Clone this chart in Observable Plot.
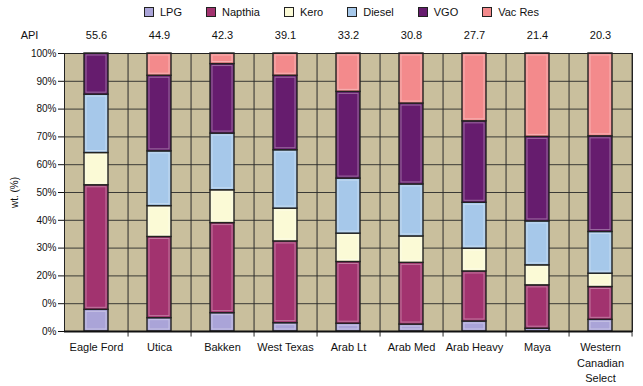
<!DOCTYPE html>
<html>
<head>
<meta charset="utf-8">
<script src="https://cdn.jsdelivr.net/npm/d3@7"></script>
<script src="https://cdn.jsdelivr.net/npm/@observablehq/plot@0.6"></script>
<style>
  body { margin: 0; background: #fff; font-family: "Liberation Sans", Arial, sans-serif; }
  #legend { height: 24px; display: flex; justify-content: center; align-items: center; font-size: 11px; color: #111; padding-left: 40px; box-sizing: border-box; width: 643px; }
  #legend .item { display: flex; align-items: center; margin: 0 12px; }
  #legend .sw { width: 8px; height: 8px; border: 1px solid #222; margin-right: 6px; }
</style>
</head>
<body>
<div id="legend"></div>
<div id="chart"></div>
<script>
const categories = ["Eagle Ford", "Utica", "Bakken", "West Texas", "Arab Lt", "Arab Med", "Arab Heavy", "Maya", "Western Canadian Select"];
const xLabels = ["Eagle Ford", "Utica", "Bakken", "West Texas", "Arab Lt", "Arab Med", "Arab Heavy", "Maya", "Western\nCanadian\nSelect"];
const api = ["55.6", "44.9", "42.3", "39.1", "33.2", "30.8", "27.7", "21.4", "20.3"];
const seriesNames = ["LPG", "Napthia", "Kero", "Diesel", "VGO", "Vac Res"];
const seriesColors = ["#aaa4d8", "#a2336f", "#fbfad6", "#a6c8ea", "#661c6e", "#f38a8c"];
const lpg     = [7.8, 4.8, 6.6, 3.0, 2.8, 2.5, 3.6, 1.0, 4.2];
const napthia = [44.8, 29.2, 32.4, 29.4, 22.2, 22.2, 18.0, 15.6, 11.8];
const kero    = [11.6, 11.1, 11.8, 11.8, 10.2, 9.5, 8.2, 7.2, 4.8];
const diesel  = [21.0, 19.7, 20.4, 21.0, 19.8, 18.7, 16.5, 15.8, 15.0];
const vgo     = [14.8, 27.2, 25.0, 26.8, 31.2, 29.1, 29.3, 30.4, 34.4];
const vacRes  = [0.0, 8.0, 3.8, 8.0, 13.8, 18.0, 24.4, 30.0, 29.8];
const yTicks = [0, 10, 20, 30, 40, 50, 60, 70, 80, 90, 100];
const yTickLabels = ["0%", "0%", "20%", "30%", "40%", "50%", "60%", "70%", "80%", "90%", "100%"];

const seriesValues = [lpg, napthia, kero, diesel, vgo, vacRes];
const data = [];
categories.forEach((c, i) => {
  seriesNames.forEach((s, j) => {
    if (seriesValues[j][i] > 0) data.push({crude: c, component: s, value: seriesValues[j][i]});
  });
});

// legend
const leg = document.getElementById("legend");
seriesNames.forEach((s, j) => {
  const it = document.createElement("div");
  it.className = "item";
  it.innerHTML = `<span class="sw" style="background:${seriesColors[j]}"></span><span>${s}</span>`;
  leg.appendChild(it);
});

const W = 643, ML = 64, MR = 11;
const step = (W - ML - MR) / categories.length;

const chart = Plot.plot({
  width: W,
  height: 362,
  marginLeft: ML,
  marginRight: MR,
  marginTop: 29,
  marginBottom: 55,
  style: { fontFamily: "Liberation Sans, Arial, sans-serif", fontSize: "10px", color: "#111", overflow: "visible" },
  x: { domain: categories, paddingInner: 0.62, paddingOuter: 0.31, axis: null },
  y: { domain: [0, 100], axis: null },
  color: { domain: seriesNames, range: seriesColors },
  marks: [
    Plot.frame({ fill: "#c9bf9d", stroke: "none" }),
    Plot.gridY(yTicks, { stroke: "#3a3a36", strokeOpacity: 1, strokeWidth: 1 }),
    Plot.ruleX(categories, { x: d => d, y1: -2, y2: 100, dx: step / 2, stroke: "#2a2a2a", strokeWidth: 1 }),
    Plot.barY(data, { x: "crude", y: "value", z: "component", fill: "component", order: seriesNames, stroke: "#222", strokeWidth: 1.4 }),
    Plot.barY(data, { x: "crude", y: "value", z: "component", fill: "none", order: seriesNames, stroke: "#ffffff", strokeOpacity: 0.35, strokeWidth: 1, inset: 2 }),
    Plot.frame({ stroke: "#222", strokeWidth: 1 }),
    Plot.ruleY([0], { stroke: "#111", strokeWidth: 2 }),
    Plot.axisY({ ticks: yTicks, tickFormat: d => yTickLabels[yTicks.indexOf(d)], tickSize: 6, tickPadding: 2, fontSize: 10, stroke: "#111",
      label: "wt. (%)", labelAnchor: "center", labelArrow: "none", labelOffset: 54 }),
    Plot.axisX({ tickSize: 0, tickPadding: 9, fontSize: 11, lineHeight: 1.4, label: null, tickFormat: d => xLabels[categories.indexOf(d)] }),
    Plot.text(categories, { x: d => d, y: () => 100, text: (d, i) => api[i], dy: -18, fontSize: 11, fill: "#111" }),
    Plot.text(["API"], { x: () => categories[0], y: () => 100, text: d => d, dx: -67, dy: -18, fontSize: 11, fill: "#111" })
  ]
});
document.getElementById("chart").appendChild(chart);
</script>
</body>
</html>
